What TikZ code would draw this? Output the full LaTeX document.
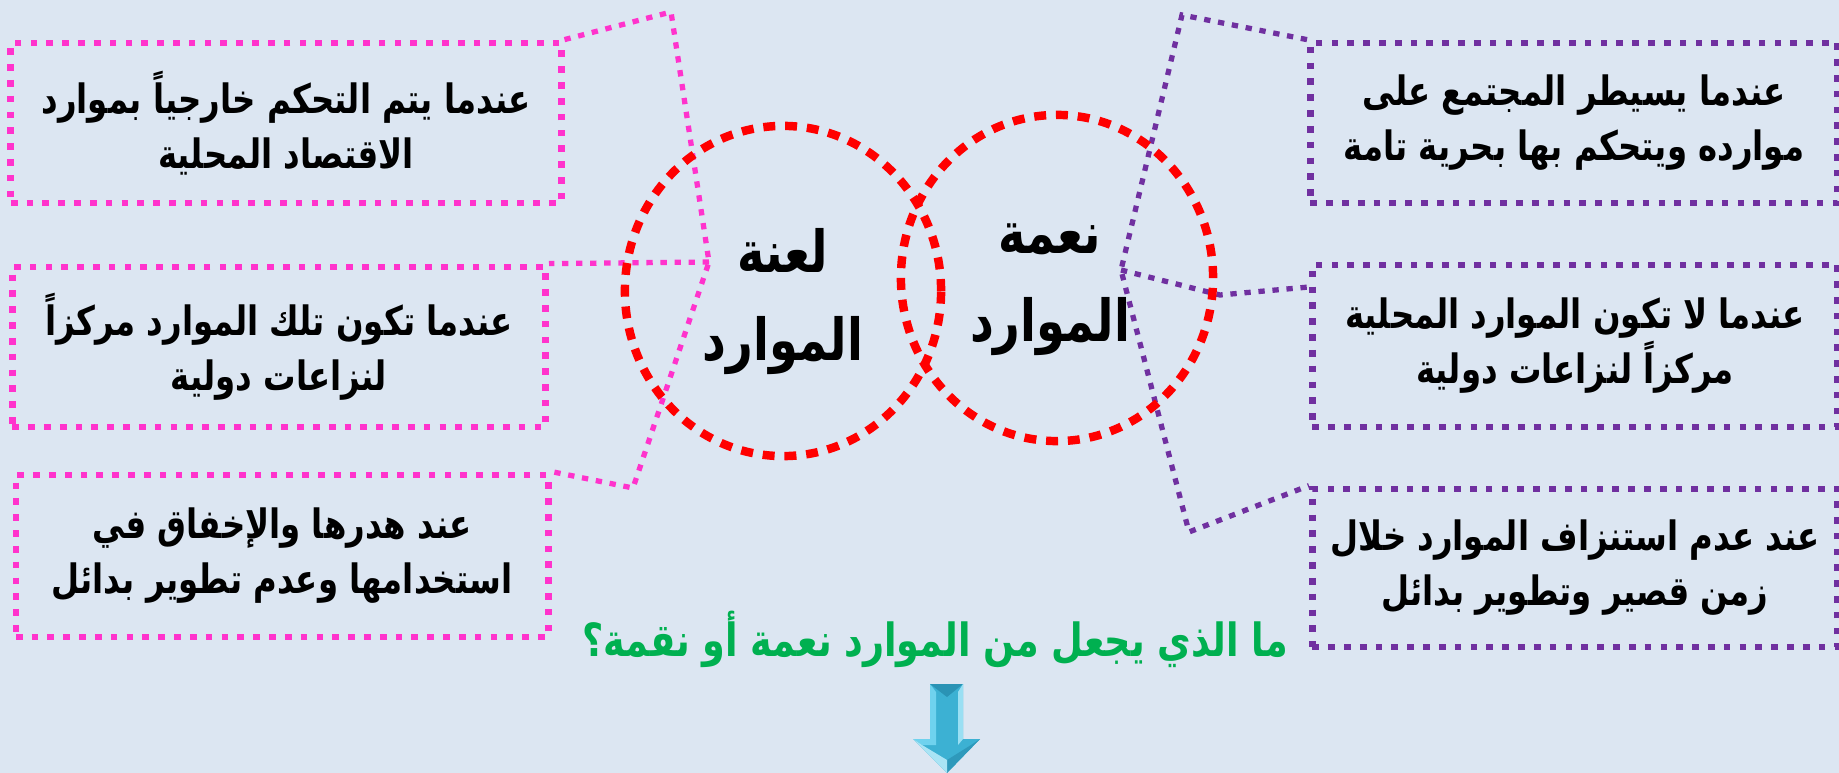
\documentclass[tikz,border=0pt]{standalone}
\usepackage{fontspec}
\newfontfamily\arabicfont[Script=Arabic,FakeStretch=0.8]{DejaVu Sans}
\TeXXeTstate=1
\usetikzlibrary{shapes.geometric}

\definecolor{slidebg}{HTML}{DCE6F2}
\definecolor{cursepink}{HTML}{FF33CC}
\definecolor{blesspurple}{HTML}{7030A0}
\definecolor{ringred}{HTML}{FF0000}
\definecolor{askgreen}{HTML}{00B050}
\definecolor{arrowbody}{HTML}{3CB1D3}
\definecolor{arrowlight}{HTML}{6FD2EE}
\definecolor{arrowdark}{HTML}{2A93B5}
\newcommand{\rl}[1]{\beginR #1\endR}

\begin{document}
\begin{tikzpicture}[
  x=0.01cm, y=-0.01cm,
  txt/.style={font=\arabicfont\bfseries\fontsize{11.5}{15.6}\selectfont,align=center,text=black},
  cursebox/.style={txt,draw=cursepink,line width=1.9pt,dash pattern=on 1.9pt off 2.6pt},
  blessbox/.style={txt,draw=blesspurple,line width=1.9pt,dash pattern=on 1.9pt off 2.6pt},
  cursewire/.style={draw=cursepink,line width=1.5pt,dash pattern=on 1.8pt off 2.2pt},
  blesswire/.style={draw=blesspurple,line width=1.5pt,dash pattern=on 1.8pt off 2.2pt},
  ring/.style={ellipse,draw=ringred,line width=2.4pt,dash pattern=on 3.4pt off 2.8pt},
  ringtxt/.style={font=\arabicfont\bfseries\fontsize{16.5}{25}\selectfont,align=center},
  ask/.style={font=\arabicfont\bfseries\fontsize{13}{16}\selectfont,text=askgreen}
]
\fill[slidebg] (0,0) rectangle (1839,773);
\useasboundingbox (0,0) rectangle (1839,773);

% curse side
\node[cursebox,minimum width=5.50cm,minimum height=1.60cm] (c1) at (286,123)
  {\rl{عندما يتم التحكم خارجياً بموارد}\\\rl{الاقتصاد المحلية}};
\node[cursebox,minimum width=5.33cm,minimum height=1.60cm] (c2) at (279,347)
  {\rl{عندما تكون تلك الموارد مركزاً}\\\rl{لنزاعات دولية}};
\node[cursebox,minimum width=5.32cm,minimum height=1.62cm] (c3) at (282,556)
  {\rl{عند هدرها والإخفاق في}\\\rl{استخدامها وعدم تطوير بدائل}};

% blessing side
\node[blessbox,minimum width=5.27cm,minimum height=1.60cm] (b1) at (1574,123)
  {\rl{عندما يسيطر المجتمع على}\\\rl{موارده ويتحكم بها بحرية تامة}};
\node[blessbox,minimum width=5.25cm,minimum height=1.62cm] (b2) at (1575,346)
  {\rl{عندما لا تكون الموارد المحلية}\\\rl{مركزاً لنزاعات دولية}};
\node[blessbox,minimum width=5.25cm,minimum height=1.58cm] (b3) at (1575,568)
  {\rl{عند عدم استنزاف الموارد خلال}\\\rl{زمن قصير وتطوير بدائل}};

% callout wires
\coordinate (ca) at (671,12);
\coordinate (cb) at (709,262);
\coordinate (cc) at (633,488);
\draw[cursewire] (c1.north east) -- (ca) -- (cb) -- (cc) -- (c3.north east);
\draw[cursewire] (cb) -- (c2.north east);
\coordinate (ba) at (1182,15);
\coordinate (bb) at (1121,270);
\coordinate (bd) at (1220,295);
\coordinate (bc) at (1189,532);
\draw[blesswire] (b1.north west) -- (ba) -- (bb) -- (bc) -- (b3.north west);
\draw[blesswire] (bb) -- (bd) -- (b2.west |- 0,287);

% the two rings
\node[ring,minimum width=3.16cm,minimum height=3.30cm] (curse) at (783,291) {};
\node[ring,minimum width=3.12cm,minimum height=3.26cm] (bless) at (1057,278) {};
\node[ringtxt] (cursetxt) at (783,302) {\rl{لعنة}\\\rl{الموارد}};
\node[ringtxt] (blesstxt) at (1050,290) {\rl{نعمة}\\\rl{الموارد}};

% question and arrow
\node[ask] (q) at (935,639) {\rl{ما الذي يجعل من الموارد نعمة أو نقمة؟}};
\fill[arrowbody] (930,684) -- (963,684) -- (963,739) -- (980,739) -- (947,773)
  -- (913,739) -- (930,739) -- cycle;
\fill[arrowlight] (930,684) -- (936,692) -- (936,745) -- (922,745) -- (913,739) -- (930,739) -- cycle;
\fill[arrowdark] (930,684) -- (963,684) -- (947,697) -- cycle;
\fill[arrowlight!70!white] (963,684) -- (963,739) -- (958,745) -- (958,692) -- cycle;
\fill[arrowdark!80!arrowbody] (980,739) -- (947,773) -- (947,760) -- (971,745) -- cycle;
\fill[arrowlight!60!white] (913,739) -- (947,773) -- (947,760) -- (922,745) -- cycle;
\end{tikzpicture}
\end{document}
